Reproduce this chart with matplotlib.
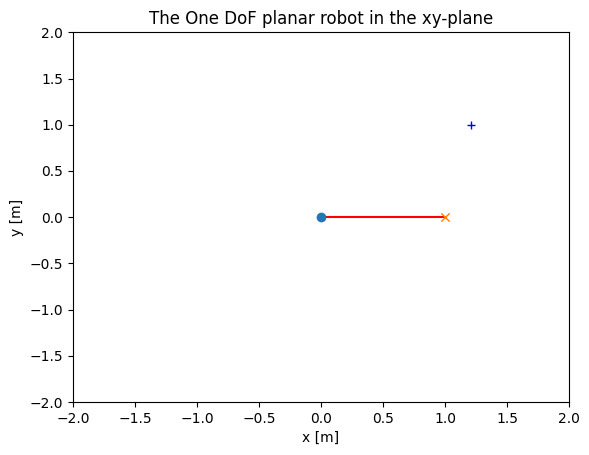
import matplotlib
matplotlib.use("Agg")
import matplotlib.pyplot as plt

link_x = [0.0, 1.0]
link_y = [0.0, 0.0]
base_x = [0.0]
base_y = [0.0]
tip_x = [1.0]
tip_y = [0.0]
target_x = [1.21]
target_y = [1.0]
ticks = [-2.0, -1.5, -1.0, -0.5, 0.0, 0.5, 1.0, 1.5, 2.0]

fig = plt.figure(figsize=(5.89, 4.55), dpi=100)
ax = fig.add_axes([73.0/589, 53.0/455, 496/589, 369.6/455])
ax.plot(link_x, link_y, color="red", zorder=2)
ax.scatter(base_x, base_y, color="C0", zorder=3)
ax.scatter(tip_x, tip_y, marker="x", color="C1", linewidths=1.0, zorder=3)
ax.scatter(target_x, target_y, marker="+", color="blue", linewidths=1.0, zorder=3)
ax.set_xlim(-2, 2)
ax.set_ylim(-2, 2)
ax.set_xticks(ticks)
ax.set_yticks(ticks)
ax.set_xlabel("x [m]")
ax.set_ylabel("y [m]")
ax.set_title("The One DoF planar robot in the xy-plane")
fig.savefig("out.png", dpi=100)
